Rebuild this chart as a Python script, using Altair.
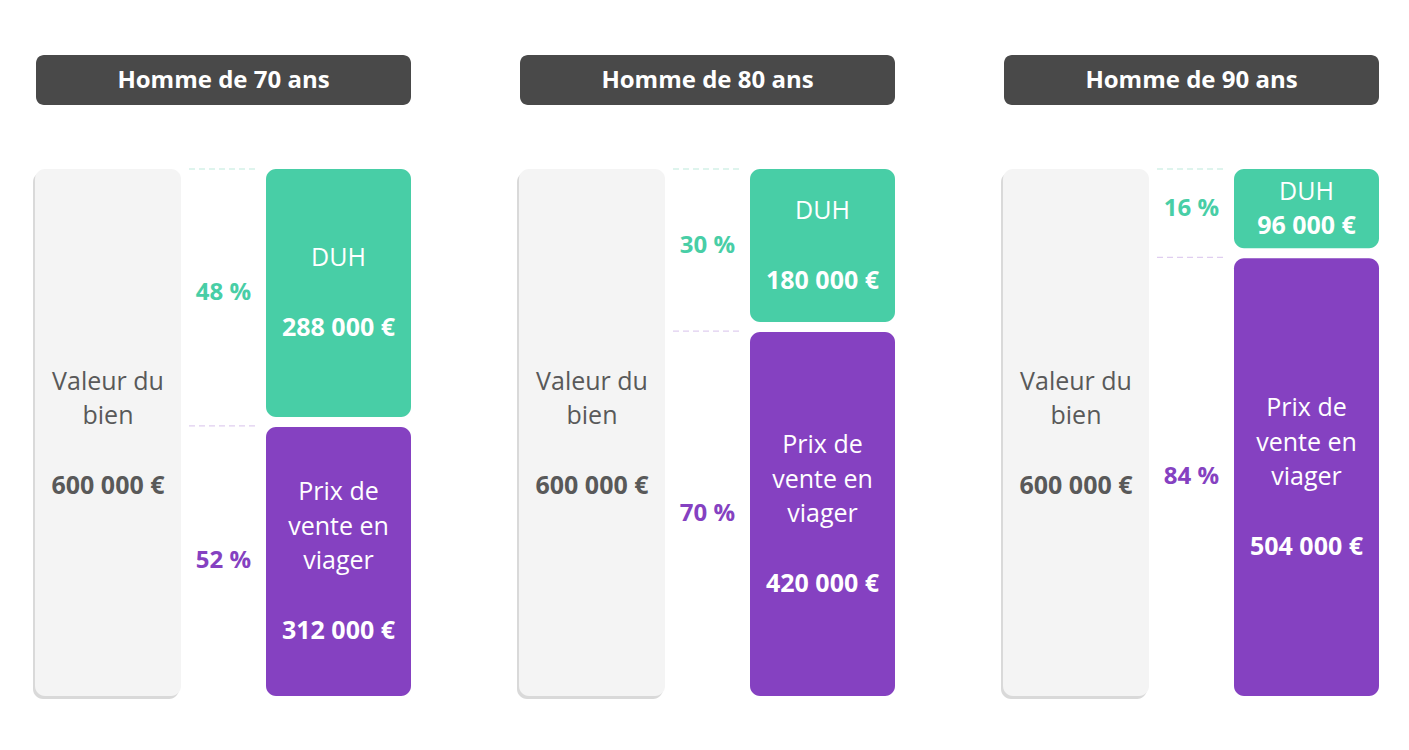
import altair as alt
import pandas as pd

# ---- data ----
ages = [70, 80, 90]
property_values = [600000, 600000, 600000]
duh_values = [288000, 180000, 96000]
sale_values = [312000, 420000, 504000]
duh_pcts = [48, 30, 16]
sale_pcts = [52, 70, 84]

label_property = ["Valeur du", "bien"]
label_duh = "DUH"
label_sale = ["Prix de", "vente en", "viager"]

# ---- styling ----
FONT = "Open Sans"
GREEN = "#48cea6"
PURPLE = "#8541c1"
GREY_BOX = "#f4f4f4"
GREY_TEXT = "#595959"
HEADER = "#494949"

PANEL_W = 378
PANEL_H = 641
BODY_H = 527  # pixel height of the bars region
Y_MAX = 600000 * PANEL_H / BODY_H

GX0, GX1 = 2, 148        # grey box
CX0, CX1 = 233, 378      # coloured boxes
DX0, DX1 = 156, 225      # dashed guides / percentages


def euro(v):
    return f"{v:,}".replace(",", " ") + " €"


def panel(i):
    total = property_values[i]
    duh = duh_values[i]
    sale = sale_values[i]
    df = pd.DataFrame({
        "title": [f"Homme de {ages[i]} ans"],
        "zero": [0],
        "total": [total],
        "split": [total - duh],
        "mid_total": [total / 2],
        "mid_duh": [total - duh / 2],
        "mid_sale": [sale / 2],
        "total_lbl": [euro(total)],
        "duh_lbl": [euro(duh)],
        "sale_lbl": [euro(sale)],
        "duh_pct": [f"{duh_pcts[i]} %"],
        "sale_pct": [f"{sale_pcts[i]} %"],
    })
    ys = alt.Scale(domain=[0, Y_MAX], nice=False, zero=True)
    base = alt.Chart(df)

    def Y(f):
        return alt.Y(f"{f}:Q", scale=ys, axis=None)

    header = base.mark_rect(color=HEADER, cornerRadius=8).encode(
        x=alt.value(3), x2=alt.value(PANEL_W), y=alt.value(0), y2=alt.value(50))
    header_txt = base.mark_text(font=FONT, fontSize=24, fontWeight="bold", color="white").encode(
        x=alt.value((3 + PANEL_W) / 2), y=alt.value(26), text="title:N")

    grey_shadow = base.mark_rect(color="#d9d9d9", cornerRadius=10, yOffset=3, y2Offset=3).encode(
        x=alt.value(GX0 - 2), x2=alt.value(GX1 - 2), y=Y("total"), y2="zero:Q")
    grey = base.mark_rect(color=GREY_BOX, cornerRadius=10).encode(
        x=alt.value(GX0), x2=alt.value(GX1), y=Y("total"), y2="zero:Q")
    gx = (GX0 + GX1) / 2
    grey_lbl = base.mark_text(font=FONT, fontSize=25, color=GREY_TEXT, lineHeight=34.5, dy=-51).encode(
        x=alt.value(gx), y=Y("mid_total"), text=alt.value(label_property))
    grey_val = base.mark_text(font=FONT, fontSize=25, fontWeight="bold", color=GREY_TEXT, dy=53).encode(
        x=alt.value(gx), y=Y("mid_total"), text="total_lbl:N")

    green = base.mark_rect(color=GREEN, cornerRadius=10, y2Offset=-5).encode(
        x=alt.value(CX0), x2=alt.value(CX1), y=Y("total"), y2="split:Q")
    purple = base.mark_rect(color=PURPLE, cornerRadius=10, yOffset=5).encode(
        x=alt.value(CX0), x2=alt.value(CX1), y=Y("split"), y2="zero:Q")

    compact = duh_pcts[i] < 20
    off = 17 if compact else 35
    cx = (CX0 + CX1) / 2
    green_lbl = base.mark_text(font=FONT, fontSize=25, color="white", dy=-off - 2.5).encode(
        x=alt.value(cx), y=Y("mid_duh"), text=alt.value(label_duh))
    green_val = base.mark_text(font=FONT, fontSize=25, fontWeight="bold", color="white", dy=off - 2.5).encode(
        x=alt.value(cx), y=Y("mid_duh"), text="duh_lbl:N")

    purple_lbl = base.mark_text(font=FONT, fontSize=25, color="white", lineHeight=34.5, dy=-66.5).encode(
        x=alt.value(cx), y=Y("mid_sale"), text=alt.value(label_sale))
    purple_val = base.mark_text(font=FONT, fontSize=25, fontWeight="bold", color="white", dy=72).encode(
        x=alt.value(cx), y=Y("mid_sale"), text="sale_lbl:N")

    dash_top = base.mark_rule(color="#bde9db", strokeDash=[6, 4], strokeWidth=1.2).encode(
        x=alt.value(DX0), x2=alt.value(DX1), y=Y("total"))
    dash_mid = base.mark_rule(color="#e0cef0", strokeDash=[6, 4], strokeWidth=1.2, yOffset=4).encode(
        x=alt.value(DX0), x2=alt.value(DX1), y=Y("split"))

    px = (DX0 + DX1) / 2
    pct_duh = base.mark_text(font=FONT, fontSize=24, fontWeight="bold", color=GREEN, dy=-2.5).encode(
        x=alt.value(px), y=Y("mid_duh"), text="duh_pct:N")
    pct_sale = base.mark_text(font=FONT, fontSize=24, fontWeight="bold", color=PURPLE, dy=2.5).encode(
        x=alt.value(px), y=Y("mid_sale"), text="sale_pct:N")

    return alt.layer(
        header, header_txt, grey_shadow, grey, grey_lbl, grey_val,
        green, purple, green_lbl, green_val, purple_lbl, purple_val,
        dash_top, dash_mid, pct_duh, pct_sale,
    ).properties(width=PANEL_W, height=PANEL_H)


chart = alt.hconcat(*[panel(i) for i in range(3)], spacing=106).properties(
    padding={"left": 25, "top": 47, "right": 5, "bottom": 5}
).configure_view(strokeWidth=0)

chart.save("out.html", embed_options={"renderer": "svg", "actions": False})
